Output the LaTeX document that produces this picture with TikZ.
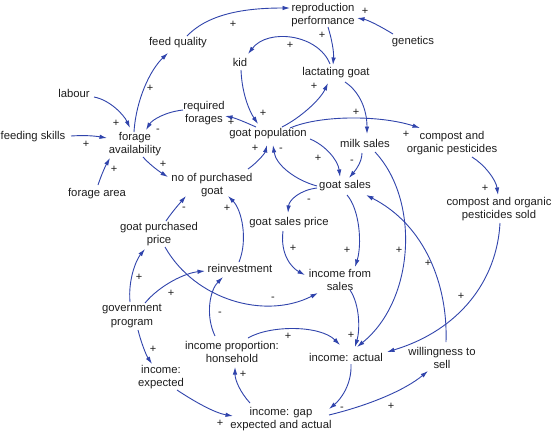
\documentclass[tikz,border=0pt]{standalone}
\usepackage{fontspec}
\setmainfont{Liberation Sans}
\usetikzlibrary{arrows.meta,calc}
\definecolor{arrowblue}{RGB}{48,68,172}
\definecolor{txt}{RGB}{30,30,30}
\tikzset{
  lbl/.style={align=center, inner sep=0pt, text=txt, font=\fontsize{11.3}{13.5}\selectfont},
  pol/.style={inner sep=0pt, text=txt, font=\fontsize{11}{13}\selectfont},
  arr/.style={draw=arrowblue, line width=0.9pt, -{Latex[length=7.5pt,width=4.5pt]}}
}
\begin{document}
\begin{tikzpicture}[x=1pt,y=-1pt]
\useasboundingbox[fill=white] (0,0) rectangle (552,432);
% nodes
\node[lbl] (rp) at (323,15) {reproduction\\performance};
\node[lbl] (gen) at (413,42) {genetics};
\node[lbl] (fq) at (178,43) {feed quality};
\node[lbl] (kid) at (240,62) {kid};
\node[lbl] (lg) at (336,73) {lactating goat};
\node[lbl] (lab) at (74,93) {labour};
\node[lbl] (rf) at (204,113) {required\\forages};
\node[lbl] (gp) at (268,134) {goat population};
\node[lbl] (ms) at (365,143) {milk sales};
\node[lbl] (cop) at (452,143) {compost and\\organic pesticides};
\node[lbl] (fs) at (33,137) {feeding skills};
\node[lbl] (fa) at (135,144) {forage\\availability};
\node[lbl] (npg) at (212,185) {no of purchased\\goat};
\node[lbl] (gs) at (345,186) {goat sales};
\node[lbl] (farea) at (97,194) {forage area};
\node[lbl] (cops) at (499,209) {compost and organic\\pesticides sold};
\node[lbl] (gsp) at (289,223) {goat sales price};
\node[lbl] (gpp) at (159,234) {goat purchased\\price};
\node[lbl] (rei) at (240,268) {reinvestment};
\node[lbl] (ifs) at (340,280) {income from\\sales};
\node[lbl] (gov) at (132,316) {government\\program};
\node[lbl] (ipr) at (232,352) {income proportion:\\honsehold};
\node[lbl] (ia) at (346,357) {income: actual};
\node[lbl] (wts) at (442,358) {willingness to\\sell};
\node[lbl] (iexp) at (161,377) {income:\\expected};
\node[lbl] (igap) at (281,419) {income: gap\\expected and actual};
% connectors
\draw[arr] ($(fq)+(9,-7)$) .. controls (210,12) and (250,8) .. ($(rp)+(-33,-7)$);
\draw[arr] ($(gen)+(-20,-8)$) .. controls (380,26) and (368,20) .. ($(rp)+(34,3)$);
\draw[arr] ($(rp)+(5,12)$) .. controls (332,40) and (334,52) .. ($(lg)+(-3,-8)$);
\draw[arr] ($(lg)+(-6,-9)$) .. controls (318,34) and (268,28) .. ($(kid)+(8,-8)$);
\draw[arr] ($(kid)+(1,8)$) .. controls (242,95) and (250,112) .. ($(gp)+(-10,-10)$);
\draw[arr] ($(gp)+(-12,-7)$) .. controls (245,122) and (235,118) .. ($(rf)+(21,3)$);
\draw[arr] ($(rf)+(-21,-3)$) .. controls (165,112) and (152,120) .. ($(fa)+(11,-14)$);
\draw[arr] ($(lab)+(20,4)$) .. controls (110,100) and (124,115) .. ($(fa)+(-5,-16)$);
\draw[arr] ($(fs)+(38,-1)$) .. controls (85,135) and (95,136) .. ($(fa)+(-28,-6)$);
\draw[arr] ($(fa)+(-1,-12)$) .. controls (136,100) and (150,70) .. ($(fq)+(-10,10)$);
\draw[arr] ($(farea)+(1,-9)$) .. controls (102,173) and (106,165) .. ($(fa)+(-25,14)$);
\draw[arr] ($(fa)+(8,13)$) .. controls (150,165) and (160,172) .. ($(npg)+(-44,-8)$);
\draw[arr] ($(npg)+(36,-16)$) .. controls (258,162) and (265,153) .. ($(gp)+(-1,11)$);
\draw[arr] ($(gs)+(-28,0)$) .. controls (295,180) and (276,165) .. ($(gp)+(5,11)$);
\draw[arr] ($(gs)+(-28,2)$) .. controls (300,190) and (289,200) .. ($(gsp)+(-1,-10)$);
\draw[arr] ($(gp)+(42,5)$) .. controls (325,145) and (338,160) .. ($(gs)+(-5,-9)$);
\draw[arr] ($(ms)+(-3,10)$) .. controls (362,163) and (354,172) .. ($(gs)+(4,-8)$);
\draw[arr] ($(gp)+(14,-7)$) .. controls (300,118) and (320,100) .. ($(lg)+(-8,10)$);
\draw[arr] ($(lg)+(9,9)$) .. controls (360,92) and (367,110) .. ($(ms)+(2,-9)$);
\draw[arr] ($(gp)+(22,-6)$) .. controls (320,115) and (380,115) .. ($(cop)+(-32,-15)$);
\draw[arr] ($(cop)+(20,14)$) .. controls (485,165) and (496,180) .. ($(cops)+(-1,-14)$);
\draw[arr] ($(cops)+(1,14)$) .. controls (497,280) and (460,330) .. ($(ia)+(41,-5)$);
\draw[arr] ($(ms)+(10,9)$) .. controls (420,200) and (415,300) .. ($(ia)+(11,-10)$);
\draw[arr] ($(wts)+(4,-16)$) .. controls (448,285) and (425,225) .. ($(gs)+(21,9)$);
\draw[arr] ($(gs)+(2,9)$) .. controls (360,210) and (362,245) .. ($(ifs)+(15,-13)$);
\draw[arr] ($(gsp)+(-6,8)$) .. controls (280,255) and (292,268) .. ($(ifs)+(-35,-5)$);
\draw[arr] ($(ifs)+(10,10)$) .. controls (360,305) and (360,330) .. ($(ia)+(9,-10)$);
\draw[arr] ($(gpp)+(7,-13)$) .. controls (172,212) and (180,203) .. ($(npg)+(-26,11)$);
\draw[arr] ($(rei)+(-1,-6)$) .. controls (248,240) and (242,210) .. ($(npg)+(16,11)$);
\draw[arr] ($(gpp)+(6,13)$) .. controls (195,300) and (265,320) .. ($(ifs)+(-22,13)$);
\draw[arr] ($(gov)+(-2,-14)$) .. controls (128,280) and (136,260) .. ($(gpp)+(-14,15)$);
\draw[arr] ($(gov)+(13,-13)$) .. controls (160,285) and (185,273) .. ($(rei)+(-35,3)$);
\draw[arr] ($(ipr)+(-17,-16)$) .. controls (205,315) and (210,290) .. ($(rei)+(-17,9)$);
\draw[arr] ($(ipr)+(16,-14)$) .. controls (270,325) and (320,325) .. ($(ia)+(-6,-12)$);
\draw[arr] ($(gov)+(6,14)$) .. controls (141,342) and (146,355) .. ($(iexp)+(-9,-13)$);
\draw[arr] ($(iexp)+(16,13)$) .. controls (195,402) and (215,413) .. ($(igap)+(-48,-3)$);
\draw[arr] ($(igap)+(-31,-16)$) .. controls (240,392) and (235,380) .. ($(ipr)+(3,15)$);
\draw[arr] ($(ia)+(5,7)$) .. controls (352,385) and (340,400) .. ($(igap)+(48,-10)$);
\draw[arr] ($(igap)+(48,-4)$) .. controls (370,405) and (405,390) .. ($(wts)+(-14,13)$);
% polarity labels
\node[pol] (p1) at (233,24) {+};
\node[pol] (p2) at (365,11) {+};
\node[pol] (p3) at (322,35) {+};
\node[pol] (p4) at (290,45) {+};
\node[pol] (p5) at (263,113) {+};
\node[pol] (p6) at (231,122) {+};
\node[pol] (p7) at (158,131) {-};
\node[pol] (p8) at (116,123) {+};
\node[pol] (p9) at (86,144) {+};
\node[pol] (p10) at (150,88) {+};
\node[pol] (p11) at (114,169) {+};
\node[pol] (p12) at (163,164) {+};
\node[pol] (p13) at (255,148) {+};
\node[pol] (p14) at (281,150) {-};
\node[pol] (p15) at (309,201) {-};
\node[pol] (p16) at (318,158) {+};
\node[pol] (p17) at (352,162) {-};
\node[pol] (p18) at (314,86) {+};
\node[pol] (p19) at (356,112) {+};
\node[pol] (p20) at (406,134) {+};
\node[pol] (p21) at (485,188) {+};
\node[pol] (p22) at (461,296) {+};
\node[pol] (p23) at (399,250) {+};
\node[pol] (p24) at (428,263) {+};
\node[pol] (p25) at (347,250) {+};
\node[pol] (p26) at (293,248) {+};
\node[pol] (p27) at (351,335) {+};
\node[pol] (p28) at (184,209) {-};
\node[pol] (p29) at (227,208) {+};
\node[pol] (p30) at (273,299) {-};
\node[pol] (p31) at (139,277) {+};
\node[pol] (p32) at (171,293) {+};
\node[pol] (p33) at (220,314) {-};
\node[pol] (p34) at (288,336) {+};
\node[pol] (p35) at (153,349) {+};
\node[pol] (p36) at (220,423) {+};
\node[pol] (p37) at (243,374) {+};
\node[pol] (p38) at (342,409) {-};
\node[pol] (p39) at (391,406) {+};
\end{tikzpicture}
\end{document}
